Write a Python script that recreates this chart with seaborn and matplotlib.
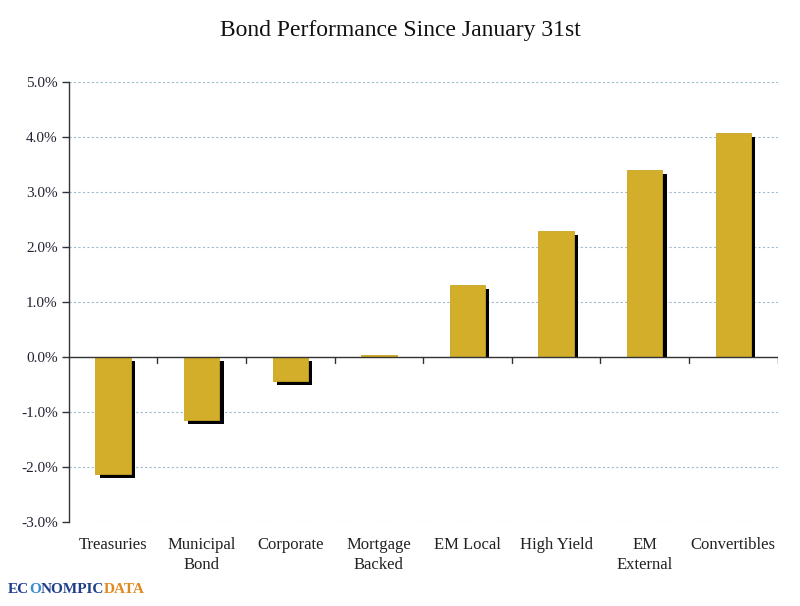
import matplotlib
matplotlib.use("Agg")
import matplotlib.pyplot as plt
import matplotlib.transforms as mtransforms
from matplotlib.patches import Rectangle
from matplotlib.offsetbox import TextArea, HPacker, AnchoredOffsetbox
import seaborn as sns
import pandas as pd
from matplotlib.ticker import FuncFormatter, MultipleLocator

# values (percent)
categories = ["Treasuries", "Municipal\nBond", "Corporate", "Mortgage\nBacked",
              "EM Local", "High Yield", "EM\nExternal", "Convertibles"]
returns = [-2.13, -1.14, -0.44, 0.03, 1.32, 2.29, 3.41, 4.08]

df = pd.DataFrame({"category": categories, "ret": returns})

sns.set_theme(style="white")
plt.rcParams["font.family"] = ["Liberation Serif", "DejaVu Serif"]

fig = plt.figure(figsize=(8.0, 6.06), dpi=100)
ax = fig.add_axes([0.086, 0.139, 0.886, 0.725])

sns.barplot(data=df, x="category", y="ret", color="#d3ae2a", saturation=1,
            width=0.4, ax=ax, zorder=3)

# drop shadows: copy each bar, shift it right/down, keep positive ones above zero
shift = mtransforms.ScaledTranslation(3 / 72, -3 / 72, fig.dpi_scale_trans)
above_zero = Rectangle((-0.5, 0), len(categories), 10, transform=ax.transData)
for bar in list(ax.patches):
    bar.set_edgecolor("#c9a520")
    bar.set_linewidth(0.6)
    shadow = Rectangle((bar.get_x(), bar.get_y()), bar.get_width(), bar.get_height(),
                       facecolor="black", edgecolor="none", zorder=2.5,
                       transform=ax.transData + shift)
    ax.add_patch(shadow)
    if bar.get_height() > 0:
        shadow.set_clip_path(above_zero)

ax.set_ylim(-3, 5)
ax.set_xlim(-0.5, len(categories) - 0.5)
ax.yaxis.set_major_locator(MultipleLocator(1))
ax.yaxis.set_major_formatter(FuncFormatter(lambda v, _: f"{v:.1f}%"))
ax.yaxis.grid(True, color="#9dbccf", linestyle=(0, (2, 2)), linewidth=0.8, zorder=0)
ax.set_axisbelow(True)

for side in ["top", "right", "bottom"]:
    ax.spines[side].set_visible(False)
ax.spines["left"].set_color("#333333")
ax.spines["left"].set_linewidth(1.0)

# zero line with tick marks between categories
ax.axhline(0, color="#333333", linewidth=1.0, zorder=4)
for b in range(1, len(categories) + 1):
    ax.plot([b - 0.5, b - 0.5], [0, -0.1], color="#333333", linewidth=1.0, zorder=4)

ax.tick_params(axis="y", direction="out", length=5, width=1, color="#333333",
               labelsize=11, labelcolor="#222233", left=True, pad=3)
ax.tick_params(axis="x", length=0, labelsize=12, labelcolor="#222222", pad=11)
for lbl in ax.get_xticklabels():
    lbl.set_linespacing(1.3)
ax.set_xlabel("")
ax.set_ylabel("")

fig.suptitle("Bond Performance Since January 31st", y=0.967, fontsize=17, color="#111111")

# logo text bottom-left
parts = [("EC", "#1f3f8a"), ("O", "#3a8bd0"), ("NOMPIC", "#1f3f8a"), ("DATA", "#e08a1e")]
boxes = [TextArea(t, textprops=dict(fontsize=11, fontweight="bold", color=c,
                                    family="Liberation Serif")) for t, c in parts]
logo = AnchoredOffsetbox(loc="lower left", child=HPacker(children=boxes, pad=0, sep=0),
                         frameon=False, bbox_to_anchor=(0.0, 0.004),
                         bbox_transform=fig.transFigure, borderpad=0.1)
fig.add_artist(logo)

fig.savefig("out.png", dpi=100, facecolor="white")
